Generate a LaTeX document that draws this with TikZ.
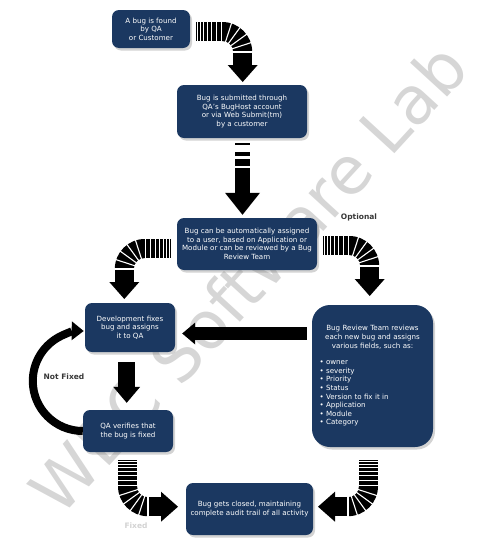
\documentclass[tikz,border=0pt]{standalone}
\usepackage{fontspec}
\setmainfont{DejaVu Sans}
\usepackage{xcolor}
\usepackage{tikz}
\usetikzlibrary{positioning,calc,arrows.meta,shadows}
\definecolor{bugnavy}{RGB}{27,56,97}
\definecolor{labelgray}{RGB}{55,55,55}
\definecolor{markgray}{RGB}{214,214,214}

% striped run-in, bent band, shaft and head (local frame, bend centre at origin)
\newcommand{\bendarrow}{%
    \foreach \a/\b in {-26.3/-25.1, -23.9/-22.3, -21.1/-19.0, -17.8/-15.2,
                       -14.0/-11.0, -9.8/-6.4, -5.2/-1.2}
        \fill (\a,-30) rectangle (\b,-11);
    \fill (0,-30) arc[start angle=270, end angle=360, radius=30]
        -- (11,0) arc[start angle=360, end angle=270, radius=11] -- cycle;
    \fill (11,0) rectangle (30,13);
    \fill (5.5,13) -- (35.5,13) -- (20.5,30) -- cycle;
    \foreach \t in {288,306,324,342,360}
        \draw[white, line width=1.1pt] (\t:10) -- (\t:31);
}

\begin{document}
\begin{tikzpicture}[
    x=1pt, y=-1pt,
    box/.style={rectangle, rounded corners=7pt, fill=bugnavy, text=white,
                align=center, inner sep=0pt, font=\fontsize{7.1}{8.6}\selectfont,
                drop shadow={shadow xshift=2pt, shadow yshift=-2.5pt, opacity=0.35}},
    fat/.style={line width=#1, line cap=butt},
    lbl/.style={font=\fontsize{7.5}{9}\selectfont\bfseries, text=labelgray},
    watermark/.style={font=\fontsize{66}{70}\selectfont, text=markgray, rotate=47.5}
]
    \useasboundingbox (0,0) rectangle (497,544);
    \node[watermark] (wm) at (248,278) {WBC Software Lab};

    \node[box, minimum width=78pt, minimum height=38pt] (found) at (151,29)
        {A bug is found\\by QA\\or Customer};
    \node[box, minimum width=130pt, minimum height=53pt] (submit) at (242,111.5)
        {Bug is submitted through\\QA's BugHost account\\or via Web Submit(tm)\\by a customer};
    \node[box, minimum width=140pt, minimum height=52pt] (assign) at (247,244)
        {Bug can be automatically assigned\\to a user, based on Application or\\Module or can be reviewed by a Bug\\Review Team};
    \node[box, minimum width=90pt, minimum height=49pt] (devfix) at (130,327.5)
        {Development fixes\\bug and assigns\\it to QA};
    \node[box, minimum width=90pt, minimum height=42pt] (verify) at (128,431)
        {QA verifies that\\the bug is fixed};
    \node[box, rounded corners=18pt, minimum width=121pt, minimum height=142pt,
          text width=106pt, align=left] (review) at (372.5,376)
        {{\centering Bug Review Team reviews\\each new bug and assigns\\various fields, such as:\par}\vspace{8pt}
         \textbullet\ owner\\\textbullet\ severity\\\textbullet\ Priority\\\textbullet\ Status\\
         \textbullet\ Version to fix it in\\\textbullet\ Application\\\textbullet\ Module\\\textbullet\ Category};
    \node[box, minimum width=127pt, minimum height=52pt] (closed) at (249.5,509)
        {Bug gets closed, maintaining\\complete audit trail of all activity};

    \node[lbl] (optional) at (359,217) {Optional};
    \node[lbl] (notfixed) at (64,376.5) {Not Fixed};
    \node[lbl, text=gray!35] (fixed) at (136,526) {Fixed};

    % bent arrows
    \coordinate (bendA) at ($(found.east)+(32,23)$);
    \coordinate (bendB) at ($(assign.west)+(-32,25)$);
    \coordinate (bendC) at ($(assign.east)+(32,22)$);
    \coordinate (bendD) at ($(verify.south)+(20,34)$);
    \coordinate (bendE) at ($(review.south)+(-24.5,39)$);
    \begin{scope}[shift={(bendA)}] \bendarrow \end{scope}
    \begin{scope}[shift={(bendB)}, xscale=-1] \bendarrow \end{scope}
    \begin{scope}[shift={(bendC)}] \bendarrow \end{scope}
    \begin{scope}[shift={(bendD)}, cm={0,-1,-1,0,(0,0)}] \bendarrow \end{scope}
    \begin{scope}[shift={(bendE)}, cm={0,-1,1,0,(0,0)}] \bendarrow \end{scope}

    % straight arrows
    \coordinate (sx) at (242.5,0);
    \coordinate (dvx) at (126.7,0);
    \coordinate (mid) at (0,333.5);
    \foreach \a/\h in {5/2, 13.7/4, 21/6.7}
        \fill ($(submit.south -| sx)+(-7.5,\a)$) rectangle ++(15,\h);
    \draw[fat=15pt, -{Triangle[width=35pt,length=22pt,line width=0pt]},
          shorten <=30pt, shorten >=3pt] (submit.south -| sx) -- (assign.north -| sx);
    \draw[fat=13pt, -{Triangle[width=22pt,length=13pt,line width=0pt]},
          shorten <=5pt, shorten >=7pt] (review.west |- mid) -- (devfix.east |- mid);
    \draw[fat=17pt, -{Triangle[width=27pt,length=16pt,line width=0pt]},
          shorten <=10pt, shorten >=7pt] (devfix.south -| dvx) -- (verify.north -| dvx);
    \draw[fat=8pt, -{Triangle[width=19pt,length=12pt,line width=0pt]}]
        (verify.west) arc[start angle=90, end angle=271, radius=50];
\end{tikzpicture}
\end{document}
